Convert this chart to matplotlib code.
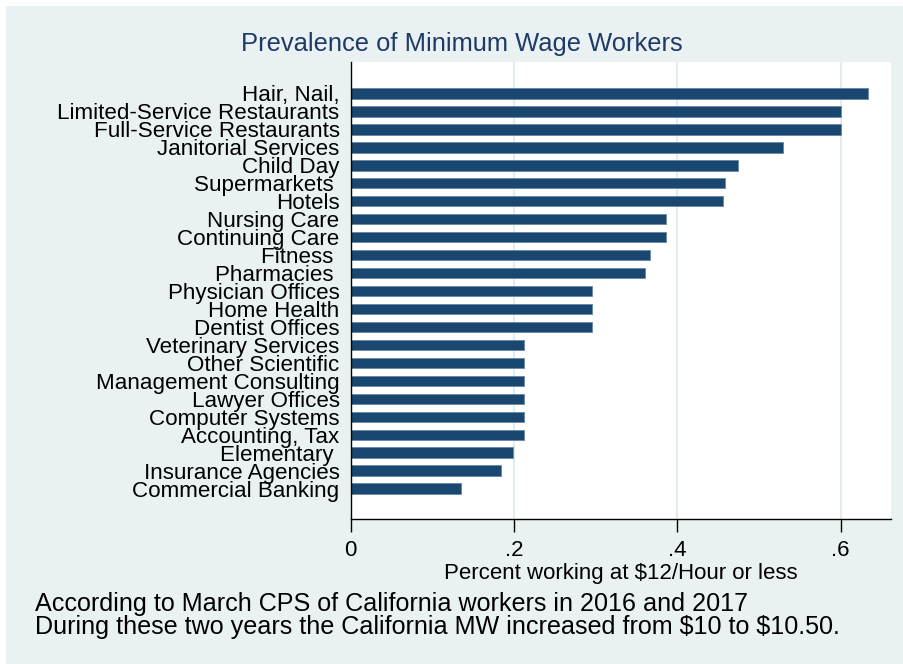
import matplotlib
matplotlib.use("Agg")
import matplotlib.pyplot as plt
from matplotlib.patches import Rectangle

plt.rcParams['font.family'] = ['Liberation Sans', 'DejaVu Sans']
plt.rcParams['text.parse_math'] = False

industries = ["Hair, Nail,", "Limited-Service Restaurants", "Full-Service Restaurants",
              "Janitorial Services", "Child Day", "Supermarkets ", "Hotels",
              "Nursing Care", "Continuing Care", "Fitness ", "Pharmacies ",
              "Physician Offices", "Home Health", "Dentist Offices",
              "Veterinary Services", "Other Scientific", "Management Consulting",
              "Lawyer Offices", "Computer Systems", "Accounting, Tax",
              "Elementary ", "Insurance Agencies", "Commercial Banking"]
share = [0.634, 0.600, 0.600, 0.530, 0.474, 0.458, 0.456,
         0.386, 0.386, 0.366, 0.361, 0.295, 0.295, 0.295,
         0.212, 0.212, 0.212, 0.212, 0.212, 0.212,
         0.199, 0.184, 0.135]
xticks = [0, 0.2, 0.4, 0.6]
xticklabels = ["0", ".2", ".4", ".6"]

title = "Prevalence of Minimum Wage Workers"
xlabel = "Percent working at $12/Hour or less"
notes = ["According to March CPS of California workers in 2016 and 2017",
         "During these two years the California MW increased from $10 to $10.50."]

W, H = 904, 664
fig = plt.figure(figsize=(W / 100, H / 100), dpi=100, facecolor='white')
bg = '#EAF1F3'
fig.patches.append(Rectangle((6 / W, 0), 1 - 6 / W, 1 - 6 / H, transform=fig.transFigure,
                             facecolor=bg, edgecolor='none', zorder=-10))

left, right, top, bottom = 350.7, 891.0, 61.7, 519.3
ax = fig.add_axes([left / W, 1 - bottom / H, (right - left) / W, (bottom - top) / H])
ax.set_facecolor('white')

ypos = list(range(len(industries)))
ax.barh(ypos, share, height=0.58, color='#1a476f', edgecolor='#6d8cab', linewidth=0.7, zorder=3)

ax.set_xlim(0, 0.6617)
ax.set_ylim(len(industries) - 1 + 1.71, -1.77)

ax.set_xticks(xticks)
ax.set_xticklabels(xticklabels, fontsize=16)
ax.set_yticks(ypos)
ax.set_yticklabels(industries, fontsize=16.1)
ax.tick_params(axis='y', length=0, pad=8)
ax.tick_params(axis='x', length=9, width=1, pad=6, color='black')

for gx in xticks[1:]:
    ax.axvline(gx, color='#e3edf0', linewidth=1.5, zorder=1)

for s in ['top', 'right']:
    ax.spines[s].set_visible(False)
for s in ['left', 'bottom']:
    ax.spines[s].set_color('black')
    ax.spines[s].set_linewidth(1.0)
    ax.spines[s].set_zorder(4)

ax.set_xlabel(xlabel, fontsize=16, labelpad=1)

fig.text(462 / W, 1 - 44 / H, title, fontsize=18.4, color='#1f3a66', ha='center', va='center')
fig.text(35 / W, 1 - 604 / H, notes[0], fontsize=18.05, ha='left', va='center')
fig.text(35 / W, 1 - 627 / H, notes[1], fontsize=18.05, ha='left', va='center')

fig.savefig('out.png', dpi=100, facecolor=fig.get_facecolor())
